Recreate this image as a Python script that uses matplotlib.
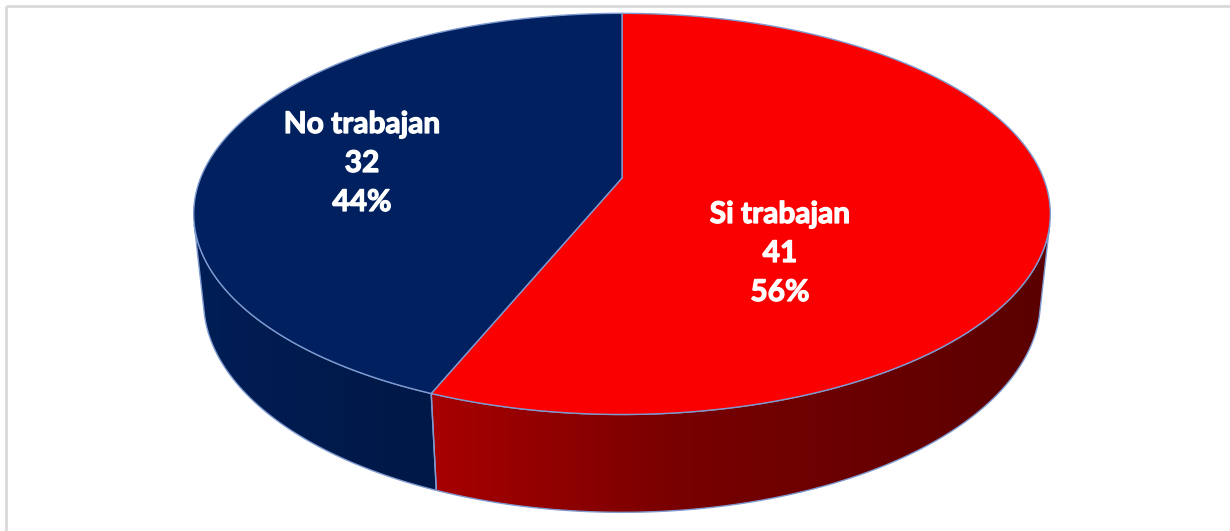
import numpy as np
import matplotlib.pyplot as plt
import matplotlib.patheffects as pe
from matplotlib.patches import Polygon, Rectangle

# data
labels = ["Si trabajan", "No trabajan"]
values = [41, 32]
top_colors = ["#fa0000", "#002060"]
# side shading stops (screen x, rgb 0-255)
side_stops = [
    ([430, 680, 1050], [(168, 0, 0), (120, 0, 0), (90, 0, 0)]),
    ([190, 430], [(0, 30, 86), (0, 24, 70)]),
]
label_pos = [(780, 214), (362, 124)]   # first line of each label, pixels
edge_col = "#7f9ad0"

# simple perspective camera for the disc (unit radius, thickness h)
alpha = np.radians(28)
s, c = np.sin(alpha), np.cos(alpha)
D = 5.587 * c
F = 2040.0
kx = 1.019
h = 0.241
cx0, cy0 = 622.0, 178.0


def to_cam(u, v, w):
    return u, v * s + w * c, D + v * c - w * s


def project(u, v, w):
    X, Y, Z = to_cam(u, v, w)
    return cx0 + kx * F * X / Z, cy0 - F * Y / Z


def front_facing(t):
    X, Y, Z = to_cam(np.cos(t), np.sin(t), -h / 2)
    return np.cos(t) * X + np.sin(t) * s * Y + np.sin(t) * c * Z < 0


fig = plt.figure(figsize=(12.3, 5.31), dpi=100)
ax = fig.add_axes([0, 0, 1, 1])
ax.set_xlim(0, 1230)
ax.set_ylim(531, 0)
ax.axis("off")

total = sum(values)
fracs = [v / total for v in values]
starts = 90 - 360 * np.concatenate([[0], np.cumsum(fracs)[:-1]])
ends = starts - 360 * np.array(fracs)

# side walls (front part only), filled with a horizontal gradient
xs_img = np.arange(1230) + 0.5
for i in range(len(values)):
    t = np.radians(np.linspace(starts[i], ends[i], 800))
    t = t[front_facing(t)]
    if len(t) < 2:
        continue
    top = [project(np.cos(a), np.sin(a), 0) for a in t]
    bot = [project(np.cos(a), np.sin(a), -h) for a in t]
    poly = Polygon(top + bot[::-1], closed=True, facecolor="none",
                   edgecolor=edge_col, lw=1)
    ax.add_patch(poly)
    px, pcols = side_stops[i]
    pcols = np.array(pcols, dtype=float) / 255
    row = np.stack([np.interp(xs_img, px, pcols[:, k]) for k in range(3)], axis=-1)
    img = ax.imshow(row[None, :, :], extent=(0, 1230, 531, 0), aspect="auto",
                    interpolation="bilinear", zorder=1)
    img.set_clip_path(poly)
    poly.set_zorder(1.5)

# top faces
center = project(0, 0, 0)
for i in range(len(values)):
    t = np.radians(np.linspace(starts[i], ends[i], 400))
    pts = [center] + [project(np.cos(a), np.sin(a), 0) for a in t]
    ax.add_patch(Polygon(pts, closed=True, facecolor=top_colors[i],
                         edgecolor=edge_col, lw=1, zorder=2))

# labels
heavy = [pe.withStroke(linewidth=0.9, foreground="white")]
for i in range(len(values)):
    x, y = label_pos[i]
    lines = [labels[i], str(values[i]), f"{fracs[i] * 100:.0f}%"]
    for k, txt in enumerate(lines):
        ax.text(x, y + 39 * k, txt, ha="center", va="center", color="white",
                fontsize=21.5, fontweight="bold", family="Lato", zorder=3,
                path_effects=heavy)

# chart frame
ax.add_patch(Rectangle((6, 6), 1260, 560, fill=False, edgecolor="#d9d9d9",
                       lw=2, zorder=4))

fig.savefig("out.png", dpi=100)
